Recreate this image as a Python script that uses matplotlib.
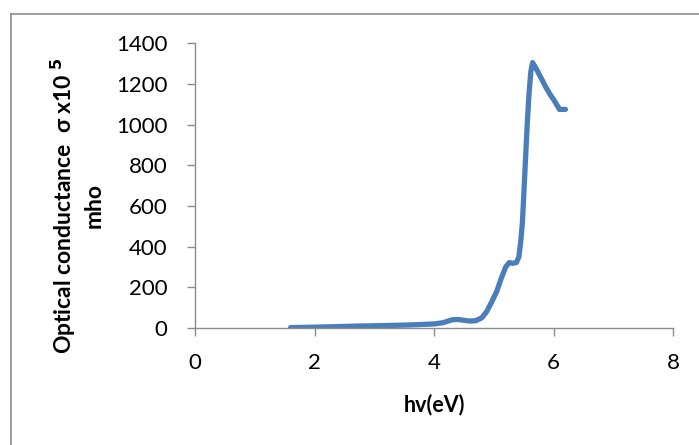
import matplotlib
matplotlib.use('Agg')
import matplotlib.pyplot as plt
from matplotlib.lines import Line2D

# photon energy (eV) and optical conductance (x10^5 mho)
hv = [1.6, 2.0, 2.4, 2.8, 3.2, 3.6, 4.0, 4.15, 4.3, 4.4, 4.5, 4.6, 4.7, 4.8, 4.88,
      4.96, 5.05, 5.12, 5.2, 5.26, 5.32, 5.38, 5.42, 5.45, 5.48, 5.5, 5.53,
      5.56, 5.59, 5.62, 5.65, 5.72, 5.8, 5.87, 5.94, 6.02, 6.1, 6.2]
sigma = [2, 4, 7, 10, 12, 15, 20, 26, 40, 42, 38, 34, 36, 50, 80,
         125, 180, 240, 300, 322, 318, 322, 350, 420, 520, 640, 820,
         1000, 1150, 1260, 1305, 1270, 1225, 1185, 1150, 1115, 1075, 1075]

plt.rcParams['font.family'] = ['Lato', 'DejaVu Sans']

fig = plt.figure(figsize=(6.99, 4.45), dpi=100)
ax = fig.add_axes([195 / 699, 1 - 328 / 445, (673 - 195) / 699, (328 - 43.3) / 445])

ax.plot(hv, sigma, color='#4a7ebb', lw=3.8, solid_capstyle='round',
        solid_joinstyle='round')

ax.set_xlim(0, 8)
ax.set_ylim(0, 1400)
ax.set_xticks(range(0, 9, 2))
ax.set_yticks(range(0, 1401, 200))

for s in ['top', 'right']:
    ax.spines[s].set_visible(False)
for s in ['left', 'bottom']:
    ax.spines[s].set_color('#8c8c8c')
    ax.spines[s].set_linewidth(1.0)
ax.tick_params(axis='both', colors='#8c8c8c', labelcolor='black',
               labelsize=16, length=6, width=1.0, direction='out')
ax.tick_params(axis='y', pad=14)
ax.tick_params(axis='x', pad=12)

ax.set_xlabel('hv(eV)', fontsize=15.5, fontweight='bold', labelpad=15)
ax.set_ylabel('Optical conductance  σ x10 $^{\\mathbf{5}}$\nmho', fontsize=16.5,
              fontweight='bold', linespacing=1.3)
ax.yaxis.set_label_coords(-0.19, 0.43)

# outer chart frame (top and left edges visible)
fig.add_artist(Line2D([10.5 / 699, 10.5 / 699], [0, 1 - 14 / 445],
                      transform=fig.transFigure, color='#8c8c8c', lw=1.2))
fig.add_artist(Line2D([10.5 / 699, 1], [1 - 14 / 445, 1 - 14 / 445],
                      transform=fig.transFigure, color='#8c8c8c', lw=1.2))

fig.savefig('out.png', dpi=100, facecolor='white')
